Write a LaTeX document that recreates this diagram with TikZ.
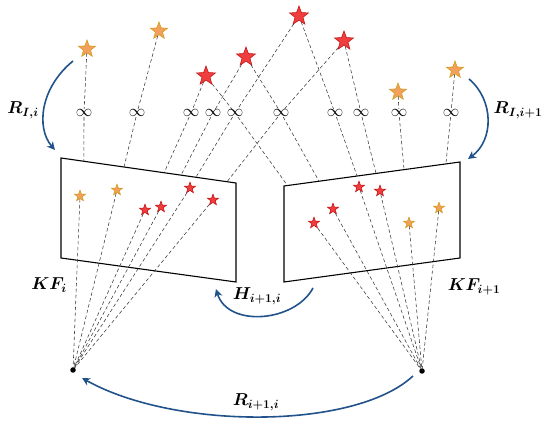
\documentclass[tikz,border=0pt]{standalone}
\usepackage{bm}
\usepackage{graphicx}
\usetikzlibrary{shapes.geometric,arrows.meta,calc}
\definecolor{ostar}{RGB}{242,160,92}
\definecolor{oedge}{RGB}{210,158,30}
\definecolor{rstar}{RGB}{240,62,62}
\definecolor{redge}{RGB}{196,22,22}
\definecolor{arrblue}{RGB}{33,82,138}
\newcommand{\infmark}{\scalebox{1.65}{$\infty$}}
\begin{document}
\begin{tikzpicture}[x=1pt,y=-1pt,
  starbase/.style={star,star points=5,star point ratio=2.4,inner sep=0pt,line width=0.6pt},
  bigo/.style={starbase,fill=ostar,draw=oedge,minimum size=18pt},
  bigr/.style={starbase,fill=rstar,draw=redge,minimum size=20pt},
  smallo/.style={starbase,fill=ostar,draw=oedge,minimum size=11.5pt},
  smallr/.style={starbase,fill=rstar,draw=redge,minimum size=11.5pt},
  inf/.style={inner sep=0.3pt},
  ray/.style={draw=black!78,line width=0.55pt,dash pattern=on 3.5pt off 2.5pt},
  kframe/.style={draw=black,line width=1.1pt,line join=miter},
  cam/.style={circle,fill=black,minimum size=5.5pt,inner sep=0pt},
  motion/.style={draw=arrblue,line width=1.6pt,-{Stealth[length=8pt,width=8pt,inset=2.5pt]}},
  lbl/.style={font=\fontsize{18}{20}\selectfont,inner sep=0pt}
]
\useasboundingbox (0,0) rectangle (550,425);

% frame corners
\coordinate (L1) at (61,158); \coordinate (L2) at (236,183);
\coordinate (L3) at (236,282); \coordinate (L4) at (61,258);
\coordinate (R1) at (284,186); \coordinate (R2) at (460,162);
\coordinate (R3) at (460,258); \coordinate (R4) at (284,282);
\draw[kframe] (L1) -- (L2) -- (L3) -- (L4) -- cycle;
\draw[kframe] (R1) -- (R2) -- (R3) -- (R4) -- cycle;

% ray end points on the frame top edges
\coordinate (eo1) at ($(L1)!0.131!(L2)$);
\coordinate (eo2) at ($(L1)!0.360!(L2)$);
\coordinate (ea1) at ($(L1)!0.589!(L2)$);
\coordinate (eb1) at ($(L1)!0.686!(L2)$);
\coordinate (ec1) at ($(L1)!0.771!(L2)$);
\coordinate (ed1) at ($(L1)!0.949!(L2)$);
\coordinate (ea2) at ($(R1)!0.020!(R2)$);
\coordinate (eb2) at ($(R1)!0.199!(R2)$);
\coordinate (ec2) at ($(R1)!0.415!(R2)$);
\coordinate (ed2) at ($(R1)!0.523!(R2)$);
\coordinate (eo3) at ($(R1)!0.682!(R2)$);
\coordinate (eo4) at ($(R1)!0.920!(R2)$);

% 3D points
\node[bigo] (o1) at (87,49) {};
\node[bigo] (o2) at (159,31) {};
\node[bigr] (a) at (206,76) {};
\node[bigr] (b) at (246,57) {};
\node[bigr] (c) at (299,16) {};
\node[bigr] (d) at (344,41) {};
\node[bigo] (o3) at (398,92) {};
\node[bigo] (o4) at (455,70) {};

% infinity marks
\node[inf] (i1) at (84,113) {\infmark};
\node[inf] (i2) at (137,113) {\infmark};
\node[inf] (i3) at (191,113) {\infmark};
\node[inf] (i4) at (213,113) {\infmark};
\node[inf] (i5) at (235,113) {\infmark};
\node[inf] (i6) at (281,113) {\infmark};
\node[inf] (i7) at (335,113) {\infmark};
\node[inf] (i8) at (361,113) {\infmark};
\node[inf] (i9) at (399,113) {\infmark};
\node[inf] (i10) at (451,113) {\infmark};

% rays at infinity
\draw[ray] (o1) -- (i1) -- (eo1);
\draw[ray] (o2) -- (i2) -- (eo2);
\draw[ray] (a) -- (i3) -- (ea1);
\draw[ray] (b) -- (i4) -- (eb1);
\draw[ray] (c) -- (i5) -- (ec1);
\draw[ray] (d) -- (i6) -- (ed1);
\draw[ray] (a) -- (i5) -- (ea2);
\draw[ray] (b) -- (i6) -- (eb2);
\draw[ray] (c) -- (i7) -- (ec2);
\draw[ray] (d) -- (i8) -- (ed2);
\draw[ray] (o3) -- (i9) -- (eo3);
\draw[ray] (o4) -- (i10) -- (eo4);

% camera centres
\node[cam] (c1) at (73,370) {};
\node[cam] (c2) at (422,371) {};

% projected points
\node[smallo] (so1) at (80,196) {};
\node[smallo] (so2) at (117,190) {};
\node[smallr] (sr1) at (145,210) {};
\node[smallr] (sr2) at (161,207) {};
\node[smallr] (sr3) at (190,188) {};
\node[smallr] (sr4) at (213,200) {};
\node[smallr] (tr1) at (314,223) {};
\node[smallr] (tr2) at (333,209) {};
\node[smallr] (tr3) at (359,187) {};
\node[smallr] (tr4) at (380,191) {};
\node[smallo] (to1) at (409,223) {};
\node[smallo] (to2) at (439,208) {};

\foreach \s in {so1,so2,sr1,sr2,sr3,sr4} \draw[ray] (\s) -- (c1);
\foreach \s in {tr1,tr2,tr3,tr4,to1,to2} \draw[ray] (\s) -- (c2);

% motion arrows
\coordinate (m1s) at (73,61);  \coordinate (m1e) at (55,150);
\coordinate (m2s) at (469,79); \coordinate (m2e) at (468,159);
\coordinate (m3s) at (313,288); \coordinate (m3e) at (216,289);
\coordinate (m4s) at (413,376); \coordinate (m4e) at (82,378);
\draw[motion] (m1s) .. controls (40,88) and (36,128) .. (m1e);
\draw[motion] (m2s) .. controls (494,100) and (494,140) .. (m2e);
\draw[motion] (m3s) .. controls (295,322) and (228,328) .. (m3e);
\draw[motion] (m4s) .. controls (355,430) and (175,430) .. (m4e);

% labels
\node[lbl] (lRIi) at (23,110) {$\bm{R_{I,i}}$};
\node[lbl] (lRIi1) at (518,110) {$\bm{R_{I,i+1}}$};
\node[lbl] (lKFi) at (49,285) {$\bm{KF_{i}}$};
\node[lbl] (lKFi1) at (474,287) {$\bm{KF_{i+1}}$};
\node[lbl] (lH) at (257,296) {$\bm{H_{i+1,i}}$};
\node[lbl] (lR) at (256,402) {$\bm{R_{i+1,i}}$};
\end{tikzpicture}
\end{document}
